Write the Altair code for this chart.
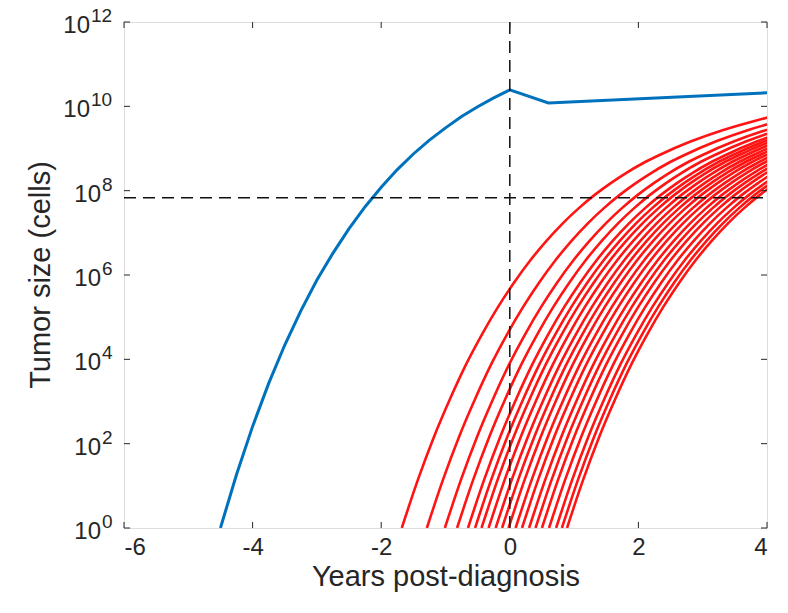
import altair as alt
import pandas as pd
import numpy as np

# ---- data ----
# blue (primary tumour) curve: years, log10(cells)
blue_x = [-4.5, -4.25, -4.0, -3.75, -3.5, -3.25, -3.0, -2.75, -2.5, -2.25, -2.0,
          -1.75, -1.5, -1.25, -1.0, -0.75, -0.5, -0.25, 0.0, 0.6, 4.0]
blue_log = [0.0, 1.27, 2.41, 3.43, 4.34, 5.15, 5.88, 6.52, 7.10, 7.62, 8.08,
            8.50, 8.87, 9.20, 9.49, 9.76, 9.99, 10.20, 10.39, 10.08, 10.32]

# red (metastases) curves: common shape (years since onset, log10 cells) and onsets
red_tau = [0.0, 0.25, 0.5, 0.75, 1.0, 1.25, 1.5, 1.75, 2.0, 2.25, 2.5, 2.75, 3.0,
           3.25, 3.5, 3.75, 4.0, 4.5, 5.0, 5.5, 5.75, 6.0]
red_log = [0.0, 1.14, 2.16, 3.06, 3.88, 4.60, 5.25, 5.83, 6.35, 6.81, 7.22, 7.58, 7.90,
           8.18, 8.43, 8.65, 8.84, 9.17, 9.44, 9.66, 9.76, 9.85]
red_onsets = [-1.68, -1.29, -1.01, -0.82, -0.65, -0.54, -0.44, -0.33, -0.22, -0.12,
              -0.02, 0.09, 0.19, 0.30, 0.40, 0.50, 0.61, 0.72, 0.81, 0.89]

threshold = 6.8e7
diag_x = 0.0

x_ticks = [-6, -4, -2, 0, 2, 4]
y_tick_exps = [0, 2, 4, 6, 8, 10, 12]

# ---- tables ----
blue_df = pd.DataFrame({"x": blue_x, "y": [10.0 ** v for v in blue_log]})
rows = []
for i, o in enumerate(red_onsets):
    for t, v in zip(red_tau, red_log):
        rows.append({"id": i, "x": o + t, "y": 10.0 ** v})
red_df = pd.DataFrame(rows)
ytick_df = pd.DataFrame({"e": y_tick_exps, "v": [10.0 ** e for e in y_tick_exps],
                         "es": [str(e) for e in y_tick_exps]})
xtick_df = pd.DataFrame({"x": x_ticks})

W, H = 643, 506
AX = "#262626"
FONT = "Liberation Sans"

xs = alt.Scale(domain=[-6, 4], nice=False, zero=False)
ys = alt.Scale(type="log", domain=[1, 1e12], nice=False)
xaxis = alt.Axis(values=x_ticks, ticks=False, domain=False, grid=False,
                 labelExpr="'' + datum.value",
                 labelFont=FONT, labelFontSize=24, labelColor=AX, labelPadding=7,
                 title="Years post-diagnosis", titleFont=FONT, titleFontSize=29,
                 titleFontWeight="normal", titleColor=AX, titlePadding=3)


def X(f="x"):
    return alt.X(f"{f}:Q", scale=xs, axis=xaxis)


def Y(f="y"):
    return alt.Y(f"{f}:Q", scale=ys, axis=None)


red = alt.Chart(red_df).mark_line(color="#ff1414", strokeWidth=2.6, clip=True,
                                  interpolate="monotone").encode(
    x=X(), y=Y(), detail="id:N")
blue = alt.Chart(blue_df).mark_line(color="#0072BD", strokeWidth=3, clip=True).encode(
    x=X(), y=Y())

hline = alt.Chart(pd.DataFrame({"y": [threshold]})).mark_rule(
    color="#111111", strokeWidth=1.5, strokeDash=[12, 7]).encode(
    y=Y(), x=alt.value(0), x2=alt.value(W))
vline = alt.Chart(pd.DataFrame({"x": [diag_x]})).mark_rule(
    color="#111111", strokeWidth=1.5, strokeDash=[12, 7]).encode(
    x=X(), y=alt.value(0), y2=alt.value(H))

xt_bot = alt.Chart(xtick_df).mark_rule(color=AX, strokeWidth=1).encode(
    x=X(), y=alt.value(H), y2=alt.value(H - 6))
xt_top = alt.Chart(xtick_df).mark_rule(color=AX, strokeWidth=1).encode(
    x=X(), y=alt.value(0), y2=alt.value(6))
yt_l = alt.Chart(ytick_df).mark_rule(color=AX, strokeWidth=1).encode(
    y=Y("v"), x=alt.value(0), x2=alt.value(6))
yt_r = alt.Chart(ytick_df).mark_rule(color=AX, strokeWidth=1).encode(
    y=Y("v"), x=alt.value(W), x2=alt.value(W - 6))

ylab_layers = []
for cond, anchor in [("datum.e >= 10", -34), ("datum.e < 10", -23)]:
    base = alt.Chart(ytick_df).transform_filter(cond).mark_text(
        font=FONT, fontSize=24, color=AX, align="right", baseline="alphabetic",
        dy=11, text="10").encode(y=Y("v"), x=alt.value(anchor))
    expo = alt.Chart(ytick_df).transform_filter(cond).mark_text(
        font=FONT, fontSize=19, color=AX, align="left", baseline="alphabetic",
        dy=0).encode(y=Y("v"), x=alt.value(anchor + 1), text="es:N")
    ylab_layers += [base, expo]

ytitle = alt.Chart(pd.DataFrame({"t": ["Tumor size (cells)"]})).mark_text(
    font=FONT, fontSize=29, color=AX, angle=270, align="center", baseline="middle").encode(
    x=alt.value(-83), y=alt.value(H / 2), text="t:N")

chart = alt.layer(red, blue, hline, vline, xt_bot, xt_top, yt_l, yt_r,
                  *ylab_layers, ytitle).properties(
    width=W, height=H,
    autosize=alt.AutoSizeParams(type="none"),
    padding={"left": 116, "top": 14, "right": 12, "bottom": 80},
).configure_view(stroke=AX, strokeWidth=1).configure(background="white")

chart.save("out.html", embed_options={"renderer": "svg", "actions": False})
